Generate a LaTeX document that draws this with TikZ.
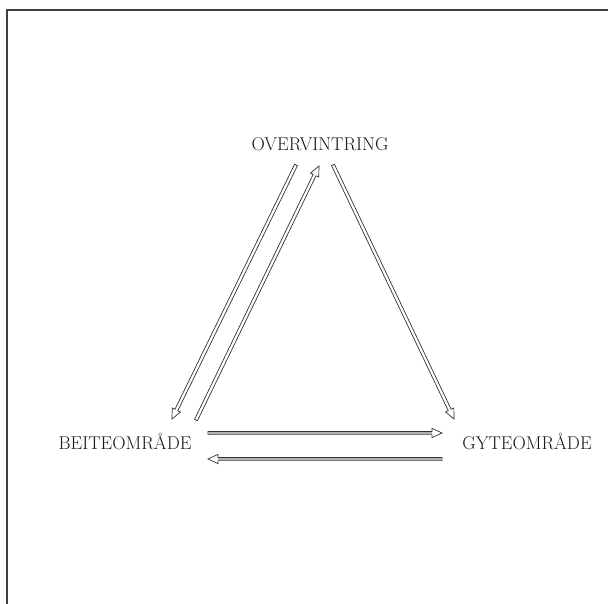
\documentclass[tikz,border=0pt]{standalone}
\usetikzlibrary{calc}
\tikzset{
  lbl/.style={inner sep=0pt, font=\fontsize{18.5}{22}\selectfont, text=black!90},
  arr/.style={draw=black!80, line width=0.7pt, fill=white, line join=miter},
  shaftfill/.style={draw=black!30, line width=2.3pt, shorten <=0.4pt, shorten >=10.4pt},
  frame/.style={draw=black!75, line width=1.4pt}
}
\newcommand\hollowarrow[2]{%
  \draw[arr] let \p1=($(#2)-(#1)$), \n1={atan2(\y1,\x1)}, \n2={veclen(\x1,\y1)-10pt} in
    ($(#1)+(\n1+90:1.6pt)$) --
    ($(#1)+(\n1:\n2)+(\n1+90:1.6pt)$) --
    ($(#1)+(\n1:\n2)+(\n1+90:4.6pt)$) --
    (#2) --
    ($(#1)+(\n1:\n2)+(\n1-90:4.6pt)$) --
    ($(#1)+(\n1:\n2)+(\n1-90:1.6pt)$) --
    ($(#1)+(\n1-90:1.6pt)$) -- cycle;}
\begin{document}
\begin{tikzpicture}[x=1pt,y=-1pt]
\useasboundingbox (0,0) rectangle (608,604);
\fill[white] (0,0) rectangle (608,604);
% frame
\coordinate (fb) at (7,604);
\coordinate (fc) at (7,10);
\coordinate (fr) at (608,10);
\draw[frame] (fb) -- (fc) -- (fr);
% labels
\node[lbl] (ov) at (320,144) {OVERVINTRING};
\node[lbl] (be) at (125,441) {BEITEOMR\AA DE};
\node[lbl] (gy) at (527,441) {GYTEOMR\AA DE};
% arrow ends
\coordinate (a1s) at (296,165);
\coordinate (a1e) at (172,419);
\coordinate (a2s) at (196,420);
\coordinate (a2e) at (319,166);
\coordinate (a3s) at (333,165);
\coordinate (a3e) at (454,419);
\coordinate (a4s) at (208,433);
\coordinate (a4e) at (442,433);
\coordinate (a5s) at (442,459);
\coordinate (a5e) at (208,459);
\hollowarrow{a1s}{a1e}
\hollowarrow{a2s}{a2e}
\hollowarrow{a3s}{a3e}
\hollowarrow{a4s}{a4e}
\hollowarrow{a5s}{a5e}
\draw[shaftfill] (a4s) -- (a4e);
\draw[shaftfill] (a5s) -- (a5e);
\end{tikzpicture}
\end{document}
